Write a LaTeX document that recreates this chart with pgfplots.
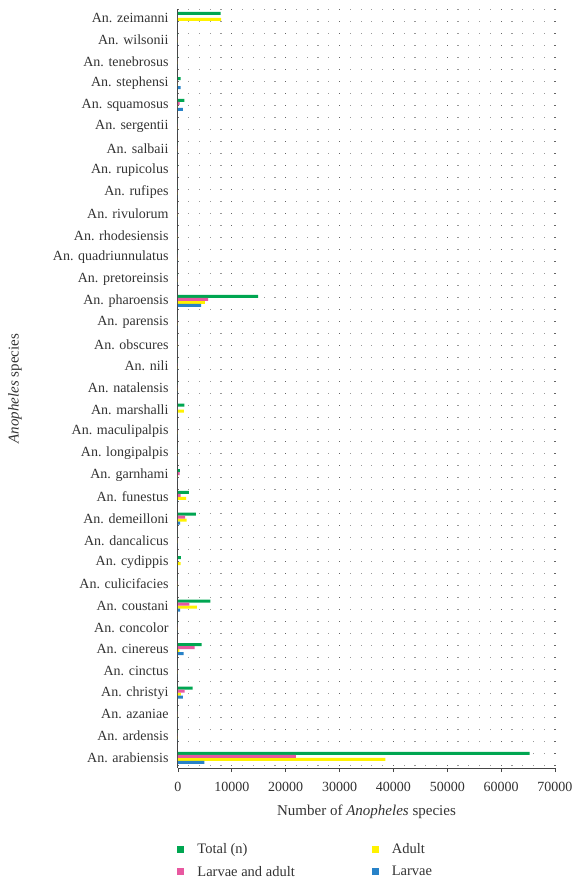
\documentclass[border=0pt]{standalone}
\usepackage{fontspec}
\setmainfont{Liberation Serif}
\usepackage{pgfplots}
\usepackage{pgfplotstable}
\pgfplotsset{compat=1.18}
\definecolor{cgreen}{RGB}{0,166,81}
\definecolor{cpink}{RGB}{232,88,160}
\definecolor{cyellow}{RGB}{255,242,0}
\definecolor{cblue}{RGB}{40,130,200}
\definecolor{caxis}{RGB}{70,70,70}
\pgfplotstableread{
idx total la adult larvae
0 65300 21900 38500 4900
1 0 0 0 0
2 0 0 0 0
3 2700 1250 550 900
4 0 0 0 0
5 4400 3100 250 1050
6 0 0 0 0
7 6000 2100 3500 400
8 0 0 0 0
9 550 0 500 0
10 0 0 0 0
11 3300 1300 1600 400
12 2000 500 1500 0
13 350 300 0 0
14 0 0 0 0
15 0 0 0 0
16 1200 0 1100 0
17 0 0 0 0
18 0 0 0 0
19 0 0 0 0
20 0 0 0 0
21 14900 5600 5000 4300
22 0 0 0 0
23 0 0 0 0
24 0 0 0 0
25 0 0 0 0
26 0 0 0 0
27 0 0 0 0
28 0 0 0 0
29 0 0 0 0
30 1200 300 0 900
31 500 0 0 500
32 0 0 0 0
33 0 0 0 0
34 7900 0 8000 0
}\datatable
\begin{document}
\begin{tikzpicture}
\useasboundingbox (-178pt,-117pt) rectangle (397pt,768pt);
\begin{axis}[
  width=377pt, height=759pt, scale only axis,
  xbar, bar width=3pt,
  xmin=0, xmax=70000,
  ymin=-0.46, ymax=34.41,
  xtick={0,10000,...,70000},
  minor x tick num=4,
  scaled x ticks=false,
  /pgf/number format/1000 sep={},
  /pgf/number format/fixed,
  /pgf/number format/assume math mode=true,
  ytick={0,...,34},
  yticklabels={An. arabiensis, An. ardensis, An. azaniae, An. christyi, An. cinctus, An. cinereus, An. concolor, An. coustani, An. culicifacies, An. cydippis, An. dancalicus, An. demeilloni, An. funestus, An. garnhami, An. longipalpis, An. maculipalpis, An. marshalli, An. natalensis, An. nili, An. obscures, An. parensis, An. pharoensis, An. pretoreinsis, An. quadriunnulatus, An. rhodesiensis, An. rivulorum, An. rufipes, An. rupicolus, An. salbaii, An. sergentii, An. squamosus, An. stephensi, An. tenebrosus, An. wilsonii, An. zeimanni},
  axis x line*=bottom, axis y line*=left,
  axis line style={caxis, line width=1pt, -},
  tick align=outside,
  major tick length=4pt, minor tick length=0pt,
  ytick style={draw=none},
  xtick style={caxis, line width=0.8pt},
  tick label style={font=\fontsize{14}{16}\selectfont, text=black!80},
  yticklabel style={xshift=-2pt},
  xticklabel style={yshift=-7pt},
  xmajorgrids, xminorgrids,
  major grid style={black!60, line width=1.2pt, dash pattern=on 1.2pt off 10.8pt, dash phase=10pt},
  minor grid style={black!40, line width=1.2pt, dash pattern=on 1.2pt off 10.8pt, dash phase=10pt},
  xlabel={Number of \textit{Anopheles} species},
  ylabel={\textit{Anopheles} species},
  every axis x label/.style={at={(axis description cs:0.5,0)}, anchor=center, yshift=-44pt, font=\fontsize{15}{17}\selectfont, text=black!80},
  every axis y label/.style={at={(axis description cs:-0.4324,0.5)}, rotate=90, anchor=center, font=\fontsize{15}{17}\selectfont, text=black!80},
  legend columns=2,
  legend cell align=left,
  legend style={at={(axis description cs:-0.01,-0.094)}, anchor=north west, draw=none, fill=none,
    font=\fontsize{14.5}{16}\selectfont, text=black!80,
    row sep=7pt,
    /tikz/every odd column/.append style={column sep=11pt},
    /tikz/every even column/.append style={column sep=75pt}},
  legend image code/.code={\fill[#1] (0pt,-3.5pt) rectangle (7pt,3.5pt);},
]
\addplot[fill=cgreen, draw=none, bar shift=4.5pt] table[x=total, y=idx] {\datatable};
\addlegendentry{Total (n)}
\addplot[fill=cyellow, draw=none, bar shift=-1.5pt] table[x=adult, y=idx] {\datatable};
\addlegendentry{Adult}
\addplot[fill=cpink, draw=none, bar shift=1.5pt] table[x=la, y=idx] {\datatable};
\addlegendentry{Larvae and adult}
\addplot[fill=cblue, draw=none, bar shift=-4.5pt] table[x=larvae, y=idx] {\datatable};
\addlegendentry{Larvae}
\end{axis}
\end{tikzpicture}
\end{document}
